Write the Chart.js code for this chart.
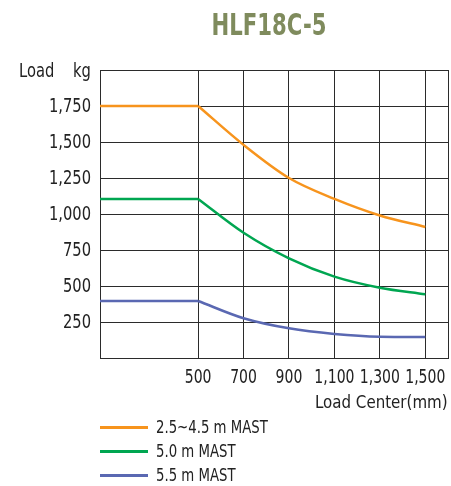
<!DOCTYPE html>
<html>
<head>
<meta charset="utf-8">
<script src="https://cdn.jsdelivr.net/npm/chart.js@4"></script>
<style>
  body { margin: 0; background: #fff; }
  #wrap { position: relative; width: 451px; height: 486px; font-family: "DejaVu Sans Condensed", sans-serif; color: #222; overflow: hidden; }
  #chart { position: absolute; left: 0; top: 0; }
  .txt { position: absolute; white-space: nowrap; line-height: normal; }
  #title { left: 269px; top: 6px; font-size: 31px; font-weight: bold; color: #7f8b5d; transform: translateX(-50%) scaleX(0.76); }
  #yload { left: 19px; top: 59px; font-size: 19px; transform: scaleX(0.86); transform-origin: left top; }
  #ykg { right: 360px; top: 59px; font-size: 19px; transform: scaleX(0.86); transform-origin: right top; }
  #xtitle { right: 3px; top: 391px; font-size: 18px; transform: scaleX(0.93); transform-origin: right top; }
  .leg { position: absolute; left: 100px; width: 300px; height: 3px; }
  .leg .sw { position: absolute; left: 0; top: 0; width: 48px; height: 3px; }
  .leg .lb { position: absolute; left: 56px; top: -10px; font-size: 18px; white-space: nowrap; line-height: normal; transform: scaleX(0.82); transform-origin: left top; }
</style>
</head>
<body>
<div id="wrap">
  <canvas id="chart" width="451" height="486"></canvas>
  <div class="txt" id="title">HLF18C-5</div>
  <div class="txt" id="yload">Load</div>
  <div class="txt" id="ykg">kg</div>
  <div class="txt" id="xtitle">Load Center(mm)</div>
  <div id="legend"></div>
</div>
<script>
// load centre (mm) for the falling part of each line
const loadCenters = [500, 700, 900, 1100, 1300, 1500];
// capacity (kg) per mast height
const mast45 = [1750, 1480, 1250, 1105, 990, 910];
const mast50 = [1105, 870, 692, 565, 488, 442];
const mast55 = [396, 276, 206, 167, 148, 146];
const seriesNames = ['2.5~4.5 m MAST', '5.0 m MAST', '5.5 m MAST'];
const seriesColors = ['#f7941d', '#00a651', '#5a68b2'];
const xTickLabels = [500, 700, 900, 1100, 1300, 1500];
const yTicks = [250, 500, 750, 1000, 1250, 1500, 1750];
const xMin = 68, xMax = 1600, yMin = 0, yMax = 2000;

const fmt = v => v.toLocaleString('en-US');
const allSeries = [mast45, mast50, mast55];

const datasets = [];
allSeries.forEach((vals, i) => {
  // flat part, full capacity up to 500 mm
  datasets.push({
    label: seriesNames[i],
    data: [{x: 0, y: vals[0]}, {x: loadCenters[0], y: vals[0]}],
    borderColor: seriesColors[i], borderWidth: 2.5, pointRadius: 0, tension: 0
  });
  // falling part
  datasets.push({
    label: seriesNames[i],
    data: loadCenters.map((x, j) => ({x: x, y: vals[j]})),
    borderColor: seriesColors[i], borderWidth: 2.5, pointRadius: 0,
    cubicInterpolationMode: 'monotone'
  });
});

// tick labels in a narrowed face, placed from the chart scales
const narrowTicks = {
  id: 'narrowTicks',
  afterDraw(chart) {
    const ctx = chart.ctx;
    const area = chart.chartArea;
    const xs = chart.scales.x, ys = chart.scales.y;
    ctx.save();
    ctx.fillStyle = '#222';
    ctx.font = '19px "DejaVu Sans Condensed", sans-serif';
    ctx.textBaseline = 'middle';
    ctx.textAlign = 'right';
    yTicks.forEach(v => {
      ctx.save();
      ctx.translate(area.left - 9, ys.getPixelForValue(v) + 1);
      ctx.scale(0.86, 1);
      ctx.fillText(fmt(v), 0, 0);
      ctx.restore();
    });
    ctx.textAlign = 'center';
    xTickLabels.forEach(v => {
      ctx.save();
      ctx.translate(xs.getPixelForValue(v), area.bottom + 20);
      ctx.scale(0.82, 1);
      ctx.fillText(fmt(v), 0, 0);
      ctx.restore();
    });
    ctx.restore();
  }
};

const gridColor = '#2b2b2b';

new Chart(document.getElementById('chart'), {
  type: 'line',
  data: {datasets},
  plugins: [narrowTicks],
  options: {
    responsive: false,
    animation: false,
    layout: {padding: {top: 70, right: 3, left: 0, bottom: 0}},
    plugins: {legend: {display: false}, tooltip: {enabled: false}, title: {display: false}},
    scales: {
      x: {
        type: 'linear', min: xMin, max: xMax,
        afterBuildTicks: s => { s.ticks = [xMin].concat(xTickLabels, [xMax]).map(v => ({value: v})); },
        afterFit: s => { s.height = 128; },
        ticks: {display: false},
        grid: {color: gridColor, lineWidth: 1, drawTicks: false},
        border: {color: gridColor, width: 1}
      },
      y: {
        min: yMin, max: yMax,
        afterBuildTicks: s => { s.ticks = [yMin].concat(yTicks, [yMax]).map(v => ({value: v})); },
        afterFit: s => { s.width = 100; },
        ticks: {display: false},
        grid: {color: gridColor, lineWidth: 1, drawTicks: false},
        border: {color: gridColor, width: 1}
      }
    }
  }
});

// legend below the chart
const legend = document.getElementById('legend');
const legendTops = [426, 450, 474];
seriesNames.forEach((name, i) => {
  const row = document.createElement('div');
  row.className = 'leg';
  row.style.top = legendTops[i] + 'px';
  row.innerHTML = `<span class="sw" style="background:${seriesColors[i]}"></span><span class="lb">${name}</span>`;
  legend.appendChild(row);
});
</script>
</body>
</html>
